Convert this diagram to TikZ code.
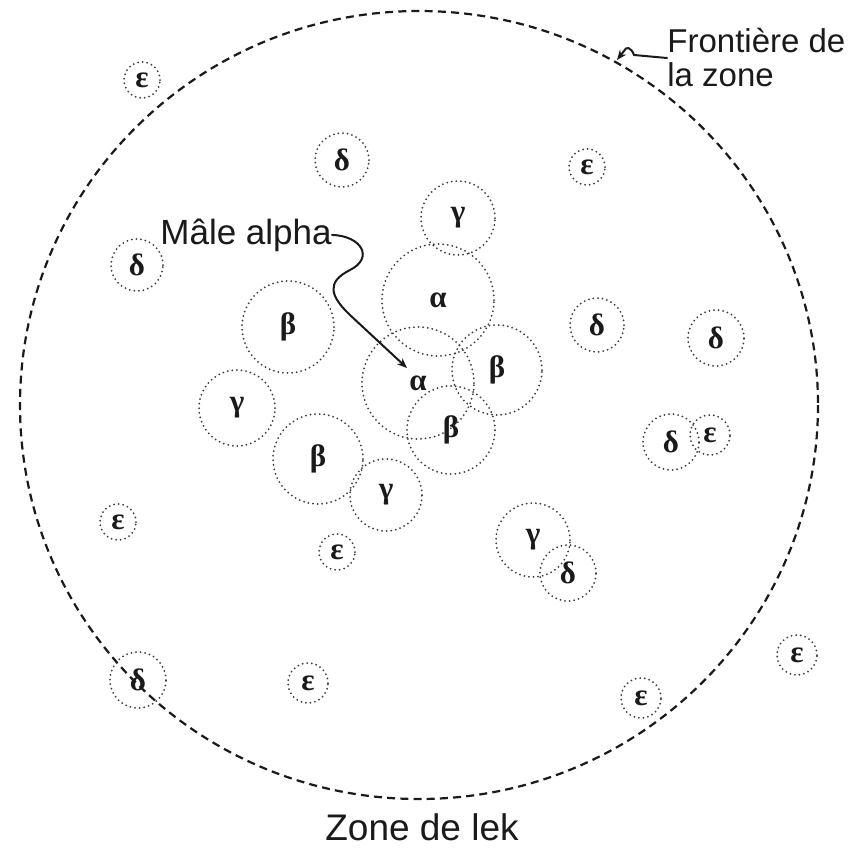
\documentclass[tikz,border=0pt]{standalone}
\usepackage{fontspec}
\newfontfamily\labelfont{Liberation Sans}
\newfontfamily\greekfont{Liberation Serif}
\usetikzlibrary{arrows.meta}
\definecolor{DotGray}{HTML}{3A3A3A}
\definecolor{InkBlack}{HTML}{1A1A1A}

\begin{document}
\begin{tikzpicture}[
  x=0.5pt, y=-0.5pt,
  line cap=round, line join=round,
  >=Stealth,
  zone/.style={circle, draw=DotGray, line width=1pt, dash pattern=on 0pt off 2.3pt,
    inner sep=0pt, text=InkBlack, font=\greekfont\bfseries\fontsize{15.5}{17}\selectfont},
  boundary/.style={draw=InkBlack, line width=1.1pt, dash pattern=on 4pt off 2.6pt, line cap=butt},
  caption/.style={font=\labelfont\fontsize{17.5}{19}\selectfont, text=InkBlack, inner sep=0pt},
  pointer/.style={draw=InkBlack, line width=1pt, -{Stealth[length=5pt,width=4pt]}}
]

% Frame
\useasboundingbox (0,0) rectangle (858,848);
\fill[white] (0,0) rectangle (858,848);

% === Lek boundary ===
\coordinate (lek) at (419,405);
\draw[boundary] (lek) ellipse (399 and 394);

% === Territories: name/x/y/radius/letter ===
\foreach \n/\x/\y/\r/\l in {
  e1/142/80/18/ε,
  d1/342/160/27/δ,
  e2/587/167/18/ε,
  d2/137/265/26/δ,
  g1/458/218/37/γ,
  a1/438/300/56/α,
  b1/288/327/46/β,
  a2/418/383/56/α,
  b2/497/370/45/β,
  b3/451/430/44/β,
  g2/237/408/38/γ,
  b4/318/459/45/β,
  g3/386/495/36/γ,
  e3/118/522/18/ε,
  e4/337/552/18/ε,
  g4/533/540/37/γ,
  d3/568/573/28/δ,
  d4/597/325/27/δ,
  d5/716/338/28/δ,
  d6/671/442/28/δ,
  e5/710/435/20/ε,
  d7/138/680/28/δ,
  e6/308/683/20/ε,
  e7/641/698/20/ε,
  e8/797/655/20/ε%
}{
  \node[zone, minimum size=\r pt] (\n) at (\x,\y) {\l};
}

% === Labels ===
\node[caption, anchor=base west] (male) at (160,244) {Mâle alpha};
\node[caption, anchor=west, align=left, font=\labelfont\fontsize{16.5}{17}\selectfont]
  (bnd) at (667,58) {Frontière de\\la zone};
\node[caption, anchor=base, font=\labelfont\fontsize{18.5}{20}\selectfont] (title) at (422,840) {Zone de lek};

% Pointer to the alpha male
\coordinate (alphatip) at (407,368);
\draw[pointer] (male.east) .. controls (362,236) and (374,258) .. (350,270)
  .. controls (326,282) and (330,296) .. (350,315) -- (alphatip);

% Pointer to the boundary
\coordinate (bndtip) at (617,60);
\draw[pointer] (bnd.west) -- (634,55) .. controls (631,47) and (626,46) .. (624,51) -- (bndtip);

\end{tikzpicture}
\end{document}
